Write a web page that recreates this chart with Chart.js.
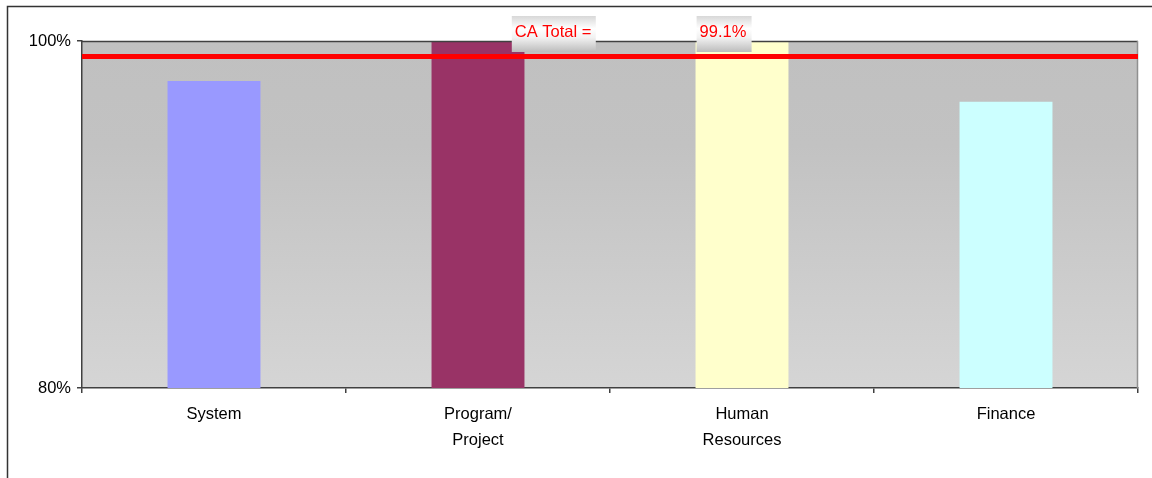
<!DOCTYPE html>
<html>
<head>
<meta charset="utf-8">
<script src="https://cdn.jsdelivr.net/npm/chart.js@4/dist/chart.umd.min.js"></script>
<style>
  html, body { margin: 0; padding: 0; background: #fff; }
  #wrap { width: 1152px; height: 478px; position: relative; }
</style>
</head>
<body>
<div id="wrap"><canvas id="caChart"></canvas></div>
<script>
// data
const categories = [['System'], ['Program/', 'Project'], ['Human', 'Resources'], ['Finance']];
const scores = [97.7, 100, 100, 96.5];
const caTotal = 99.1;
const yTicks = [80, 100];

const barColors = ['#9999ff', '#993366', '#ffffcc', '#ccffff'];

Chart.defaults.font.family = "'Liberation Sans', Arial, sans-serif";
Chart.defaults.font.size = 16.5;
Chart.defaults.color = '#000';

// gray plot background + frame
const plotBackground = {
  id: 'plotBackground',
  beforeDraw(chart) {
    const { ctx, chartArea: a } = chart;
    ctx.save();
    const g = ctx.createLinearGradient(0, a.top, 0, a.bottom);
    g.addColorStop(0, '#c0c0c0');
    g.addColorStop(0.3, '#c2c2c2');
    g.addColorStop(1, '#d5d5d5');
    ctx.fillStyle = g;
    ctx.fillRect(a.left, a.top, a.right - a.left, a.bottom - a.top);
    // outer frame (top and left only visible)
    ctx.strokeStyle = '#333';
    ctx.lineWidth = 1.5;
    ctx.beginPath();
    ctx.moveTo(7.5, 478);
    ctx.lineTo(7.5, 6.5);
    ctx.lineTo(1152, 6.5);
    ctx.stroke();
    ctx.restore();
  },
  afterDatasetsDraw(chart) {
    const { ctx, chartArea: a, scales } = chart;
    ctx.save();
    // plot border
    ctx.lineWidth = 1.5;
    ctx.strokeStyle = '#404040';
    ctx.beginPath();
    ctx.moveTo(a.left, a.top + 0.5);
    ctx.lineTo(a.right, a.top + 0.5);
    ctx.stroke();
    ctx.strokeStyle = '#909090';
    ctx.beginPath();
    ctx.moveTo(a.right - 0.5, a.top);
    ctx.lineTo(a.right - 0.5, a.bottom);
    ctx.stroke();
    // CA total line
    const y = scales.y.getPixelForValue(caTotal);
    ctx.strokeStyle = '#ff0000';
    ctx.lineWidth = 5;
    ctx.beginPath();
    ctx.moveTo(a.left, y);
    ctx.lineTo(a.right, y);
    ctx.stroke();
    // text boxes
    const w = a.right - a.left;
    const boxes = [
      { text: 'CA Total =', x: a.left + w * 0.407, width: 84 },
      { text: caTotal.toFixed(1) + '%', x: a.left + w * 0.582, width: 55 }
    ];
    ctx.font = "16.5px 'Liberation Sans', Arial, sans-serif";
    ctx.textBaseline = 'middle';
    boxes.forEach(b => {
      const top = 16, h = 36;
      const g = ctx.createLinearGradient(0, top, 0, top + h);
      g.addColorStop(0, '#d8d8d8');
      g.addColorStop(0.35, '#ffffff');
      g.addColorStop(0.6, '#f2f2f2');
      g.addColorStop(1, '#bcbcbc');
      ctx.fillStyle = g;
      ctx.fillRect(b.x, top, b.width, h);
      ctx.fillStyle = '#ff0000';
      ctx.textAlign = 'left';
      ctx.fillText(b.text, b.x + 3, top + 16);
    });
    ctx.restore();
  }
};

new Chart(document.getElementById('caChart'), {
  type: 'bar',
  data: {
    labels: categories,
    datasets: [{
      data: scores,
      backgroundColor: barColors,
      barPercentage: 0.352,
      categoryPercentage: 1
    }]
  },
  options: {
    responsive: true,
    maintainAspectRatio: false,
    animation: false,
    layout: { padding: { top: 41, right: 14, left: 0, bottom: 0 } },
    plugins: { legend: { display: false }, title: { display: false }, tooltip: { enabled: false } },
    scales: {
      x: {
        grid: { drawOnChartArea: false, offset: true, tickLength: 5, color: '#404040', lineWidth: 1.5 },
        border: { color: '#404040', width: 1.5 },
        ticks: { padding: 8, maxRotation: 0, font: { lineHeight: 1.58 } },
        afterFit(scale) { scale.height = 90; }
      },
      y: {
        min: yTicks[0],
        max: yTicks[yTicks.length - 1],
        afterBuildTicks(scale) { scale.ticks = yTicks.map(v => ({ value: v })); },
        grid: { drawOnChartArea: false, tickLength: 5, color: '#404040', lineWidth: 1.5 },
        border: { color: '#404040', width: 1.5 },
        ticks: { padding: 6, callback: v => v + '%' },
        afterFit(scale) { scale.width = 82; }
      }
    }
  },
  plugins: [plotBackground]
});
</script>
</body>
</html>
